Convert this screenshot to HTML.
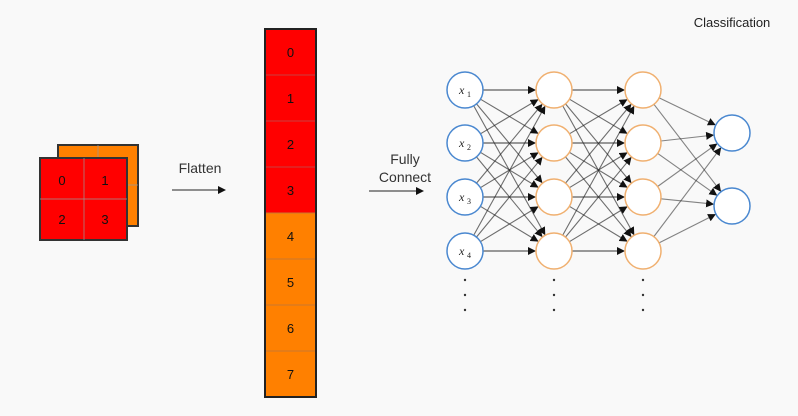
<!DOCTYPE html>
<html><head><meta charset="utf-8"><style>
html,body{margin:0;padding:0;background:#f9f9f9;}
svg{display:block;font-family:"Liberation Sans",sans-serif;}
</style></head><body>
<svg id="s" width="798" height="416" viewBox="0 0 798 416" xmlns="http://www.w3.org/2000/svg">
<defs><marker id="a" markerWidth="8" markerHeight="8" refX="7" refY="4" orient="auto" markerUnits="userSpaceOnUse"><path d="M0,0 L8,4 L0,8 z" fill="#111"/></marker></defs>
<rect x="0" y="0" width="798" height="416" fill="#f9f9f9"/>
<!-- back square -->
<rect x="58" y="145" width="80" height="81" fill="#ff8000" stroke="#333" stroke-width="2"/>
<line x1="98" y1="145" x2="98" y2="226" stroke="#999" stroke-width="0.7"/>
<line x1="58" y1="185" x2="138" y2="185" stroke="#999" stroke-width="0.7"/>
<!-- front square -->
<rect x="40" y="158" width="87" height="82" fill="#ff0000" stroke="#333" stroke-width="2"/>
<line x1="84" y1="158" x2="84" y2="240" stroke="#999" stroke-width="0.7"/>
<line x1="40" y1="199" x2="127" y2="199" stroke="#999" stroke-width="0.7"/>
<g font-size="13" fill="#111" text-anchor="middle">
<text x="62" y="185">0</text><text x="105" y="185">1</text>
<text x="62" y="224">2</text><text x="105" y="224">3</text>
</g>
<text x="200" y="173" font-size="14" fill="#333" text-anchor="middle">Flatten</text>
<line x1="172" y1="190" x2="225" y2="190" stroke="#222" stroke-width="1" marker-end="url(#a)"/>
<text x="405" y="164" font-size="14" fill="#333" text-anchor="middle">Fully</text>
<text x="405" y="182" font-size="14" fill="#333" text-anchor="middle">Connect</text>
<line x1="369" y1="191" x2="423" y2="191" stroke="#222" stroke-width="1" marker-end="url(#a)"/>
<text x="732" y="27" font-size="13" fill="#222" text-anchor="middle">Classification</text>
<g id="col"></g>
<g id="net"></g>
</svg>
<script>
var NS="http://www.w3.org/2000/svg";
function el(p,t,a,txt){var e=document.createElementNS(NS,t);for(var k in a)e.setAttribute(k,a[k]);if(txt!=null)e.textContent=txt;p.appendChild(e);return e;}
var col=document.getElementById('col');
var h=46;
for(var i=0;i<8;i++){var y=29+i*h;
el(col,'rect',{x:265,y:y,width:51,height:h,fill:i<4?'#ff0000':'#ff8000',stroke:i<4?'#c84040':'#c87830','stroke-width':1});
el(col,'text',{x:290.5,y:y+h/2+5,'font-size':13,'text-anchor':'middle',fill:'#111'},String(i));}
el(col,'rect',{x:265,y:29,width:51,height:8*h,fill:'none',stroke:'#222','stroke-width':2});
var net=document.getElementById('net');
var r=18, ys=[90,143,197,251];
var L=[465,554,643], ox=732, oys=[133,206];
function conn(x1,y1,x2,y2,op){var dx=x2-x1,dy=y2-y1,d=Math.sqrt(dx*dx+dy*dy);
el(net,'line',{x1:x1+dx/d*r,y1:y1+dy/d*r,x2:x2-dx/d*(r+1),y2:y2-dy/d*(r+1),stroke:'#222','stroke-opacity':op,'stroke-width':1.1,'marker-end':'url(#a)'});}
for(var l=0;l<2;l++)for(var i=0;i<4;i++)for(var j=0;j<4;j++)conn(L[l],ys[i],L[l+1],ys[j],i==j?0.9:0.65);
for(var i=0;i<4;i++)for(var j=0;j<2;j++)conn(L[2],ys[i],ox,oys[j],0.55);
for(var i=0;i<4;i++){
el(net,'circle',{cx:L[0],cy:ys[i],r:r,fill:'#fff',stroke:'#4a88d0','stroke-width':1.5});
var t=el(net,'text',{x:L[0]-6,y:ys[i]+4,'font-size':12,'font-style':'italic','font-family':'Liberation Serif, serif',fill:'#222'},'x');
el(net,'text',{x:L[0]+2,y:ys[i]+7,'font-size':8,'font-family':'Liberation Serif, serif',fill:'#222'},String(i+1));
el(net,'circle',{cx:L[1],cy:ys[i],r:r,fill:'#fff',stroke:'#f0b070','stroke-width':1.5});
el(net,'circle',{cx:L[2],cy:ys[i],r:r,fill:'#fff',stroke:'#f0b070','stroke-width':1.5});}
for(var j=0;j<2;j++)el(net,'circle',{cx:ox,cy:oys[j],r:r,fill:'#fff',stroke:'#4a88d0','stroke-width':1.5});
for(var l=0;l<3;l++)for(var k=0;k<3;k++)el(net,'circle',{cx:L[l],cy:280+k*15,r:1.2,fill:'#333'});
</script>
</body></html>
